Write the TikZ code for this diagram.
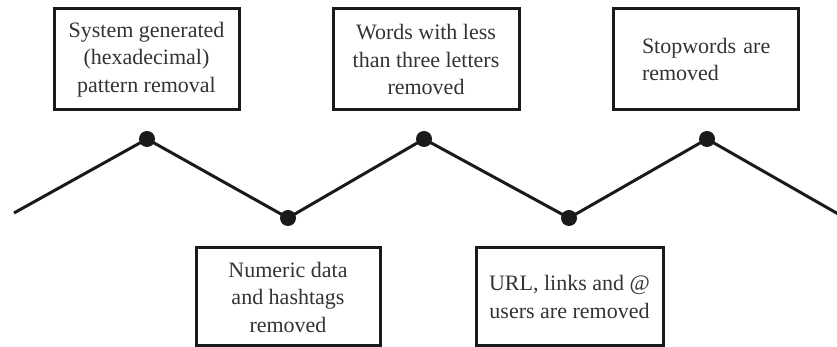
\documentclass[tikz,border=0pt]{standalone}
\usepackage{fontspec}
\setmainfont{Liberation Serif}
\usepackage{tikz}
\usetikzlibrary{positioning}
\definecolor{zz-line}{HTML}{1A1A1A}
\definecolor{zz-text}{HTML}{333333}

\tikzset{
  stepbox/.style={draw=zz-line,line width=3pt,text=zz-text,align=center,
    minimum width=185pt,minimum height=101pt,inner sep=0pt,
    font=\fontsize{22}{27.5}\selectfont},
  joint/.style={circle,fill=zz-line,inner sep=0pt,minimum size=16pt},
}

\begin{document}
\begin{tikzpicture}[x=1pt,y=1pt]
  \useasboundingbox (0,0) rectangle (837,347);
  % zigzag joints
  \coordinate (start) at (14,134);
  \node[joint] (peak1) at (147,208) {};
  \node[joint] (valley1) at (288,129) {};
  \node[joint] (peak2) at (424,208) {};
  \node[joint] (valley2) at (569,129) {};
  \node[joint] (peak3) at (707,208) {};
  \coordinate (stop) at (840,132);
  \draw[zz-line,line width=3pt,line join=round]
    (start) -- (peak1.center) -- (valley1.center) -- (peak2.center)
    -- (valley2.center) -- (peak3.center) -- (stop);
  % boxes above the peaks
  \node[stepbox] (hexa) at (146.5,287.5) {System generated\\(hexadecimal)\\pattern removal};
  \node[stepbox,minimum width=186pt] (short) at (426,287.5) {Words with less\\than three letters\\removed};
  \node[stepbox,align=left,text width=127pt,inner xsep=29pt] (stop words) at (705.5,287.5) {\mbox{Stopwords are}\\removed};
  % boxes below the valleys
  \node[stepbox,minimum width=184pt,minimum height=98pt] (numeric) at (288,50) {Numeric data\\and hashtags\\removed};
  \node[stepbox,minimum width=187pt,minimum height=98pt] (url) at (569.5,50) {URL, links and @\\users are removed};
\end{tikzpicture}
\end{document}
